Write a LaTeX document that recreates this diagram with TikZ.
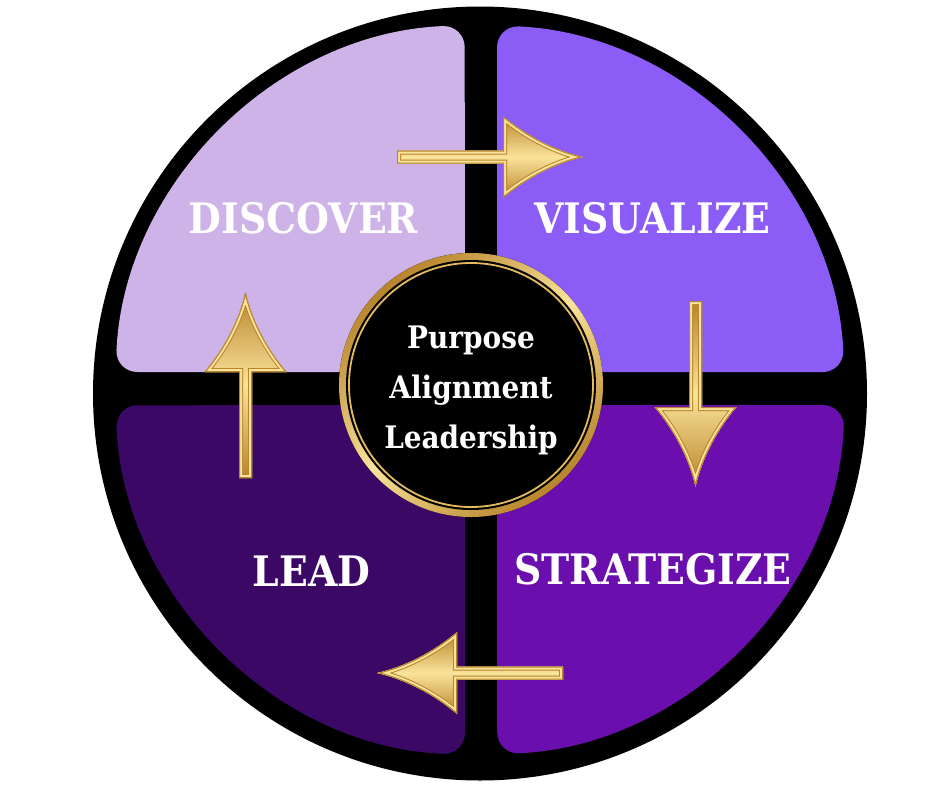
\documentclass[tikz,border=0pt]{standalone}
\usepackage{fontspec}
\newfontfamily\stagefont{DejaVu Serif}[FakeStretch=0.9]
\usetikzlibrary{positioning}

% colours of the wheel
\definecolor{discoverpurple}{HTML}{CDB3E8}
\definecolor{visualizepurple}{HTML}{8B5CF6}
\definecolor{strategizepurple}{HTML}{6A0EAE}
\definecolor{leadpurple}{HTML}{3B0866}
\definecolor{golddark}{HTML}{B8842C}
\definecolor{goldmid}{HTML}{E3BA5E}
\definecolor{goldlight}{HTML}{FAE39A}

% arrow outline, tail at (0,0), tip at (186,0)
\def\arrowshape{(0,-6.5) -- (106,-6.5) -- (106,-41) .. controls (128,-22) and (158,-6) .. (186,0) .. controls (158,6) and (128,22) .. (106,41) -- (106,6.5) -- (0,6.5) -- cycle}

\tikzset{
  stagelabel/.style={text=white, inner sep=0pt, font=\stagefont\bfseries\fontsize{42}{42}\selectfont},
  corelabel/.style={text=white, inner sep=0pt, align=center, font=\stagefont\bfseries\fontsize{31}{50}\selectfont},
  goldfill/.style={top color=golddark, bottom color=golddark, middle color=goldlight},
  quad/.style={rounded corners=22pt},
  pics/goldarrow/.style={code={
    \fill[goldfill] \arrowshape;
    \begin{scope}
      \clip \arrowshape;
      \draw[golddark, line width=8pt] \arrowshape;
      \draw[goldlight, line width=6pt] \arrowshape;
      \draw[golddark, line width=2pt] \arrowshape;
    \end{scope}
  }}
}

\begin{document}
\begin{tikzpicture}[x=1pt, y=-1pt]
\useasboundingbox (0,0) rectangle (940,788);
% black disc
\fill[black] (480,393.5) circle[radius=387];

% four quadrants
\fill[quad, discoverpurple] (465,372) -- (115.4,372) arc[start angle=182.8, end angle=267.6, radius=365] -- cycle;
\fill[quad, visualizepurple] (497,372) -- (497,25.4) arc[start angle=272.7, end angle=357.2, radius=365] -- cycle;
\fill[quad, strategizepurple] (497,405) -- (844.7,405) arc[start angle=2.4, end angle=87.3, radius=365] -- cycle;
\fill[quad, leadpurple] (465,405) -- (465,754.7) arc[start angle=92.4, end angle=177.6, radius=365] -- cycle;

% arrows between the stages
\coordinate (discover-out) at (397,157);
\coordinate (visualize-out) at (695.5,301);
\coordinate (strategize-out) at (563,673);
\coordinate (lead-out) at (245.5,478);
\foreach \name/\ang in {discover-out/0, visualize-out/-90, strategize-out/180, lead-out/90}{
  \pic[rotate=\ang] at (\name) {goldarrow};
}

% centre medallion
\fill[top color=golddark, bottom color=golddark, middle color=goldlight, shading angle=40] (471,385) circle[radius=132];
\fill[black] (471,385) circle[radius=125];
\draw[goldmid, line width=1.8pt] (471,385) circle[radius=122];

% text
\foreach \name/\txt/\x/\y in {discover/DISCOVER/303.5/218, visualize/VISUALIZE/652.5/218, strategize/STRATEGIZE/653/569, lead/LEAD/311.5/571}{
  \node[stagelabel] (\name) at (\x,\y) {\txt};
}
\node[corelabel] (core) at (471,390) {Purpose\\Alignment\\Leadership};
\end{tikzpicture}
\end{document}
